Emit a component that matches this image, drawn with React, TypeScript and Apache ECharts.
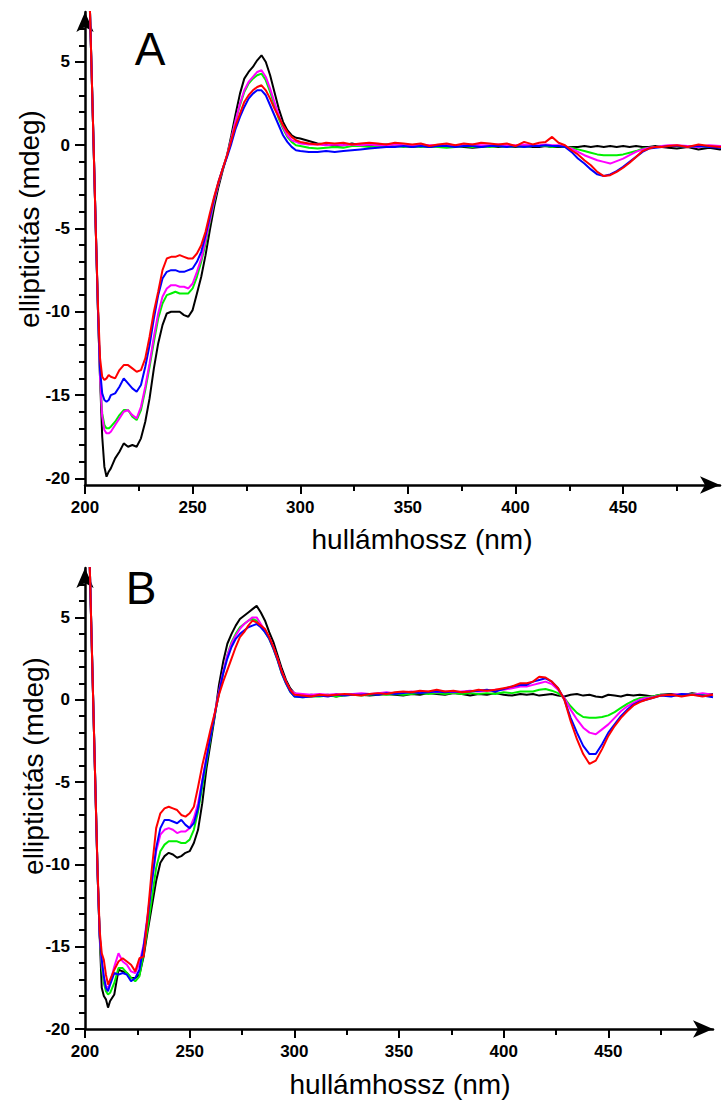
import React, { useEffect, useRef } from "react";
import * as echarts from "echarts";

const FONT = '"Liberation Sans", Arial, Helvetica, sans-serif';

// wavelengths (nm), shared by both panels
const wavelengths = [
  202, 203, 204, 205, 206, 207, 208, 209, 210, 211, 212,
  214, 216, 218, 220, 222, 224, 226, 228, 230, 232,
  234, 236, 238, 240, 242, 244, 246, 248, 250, 252,
  254, 256, 258, 260, 262, 264, 266, 268, 270, 272,
  274, 276, 278, 280, 282, 284, 286, 288, 290, 292,
  294, 296, 298,
  300, 304, 308, 312, 316, 320, 324, 328, 332, 336,
  340, 344, 348, 352, 356, 360, 364, 368, 372, 376,
  380, 384, 388, 392, 396, 400, 404, 408,
  411, 414, 417, 420, 423, 426, 429, 432, 435, 438,
  441, 444, 447, 450, 453, 456, 459, 462, 465, 468,
  471,
  475, 480, 485, 490, 495, 500,
];

// ---- Panel A ----
const aBlack = [
  9.5, 4.8, 0.0, -5.0, -9.8, -14.0, -17.5, -19.3, -19.9, -19.6, -19.4,
  -18.8, -18.4, -17.9, -18.1, -18.0, -18.1, -17.6, -16.6, -15.2, -13.4,
  -11.9, -10.8, -10.1, -10.0, -10.0, -10.0, -10.2, -10.3, -9.9, -8.9,
  -7.9, -6.6, -5.1, -3.7, -2.5, -1.5, -0.6, 0.6, 1.9, 3.1,
  4.0, 4.4, 4.7, 5.1, 5.4, 5.0, 4.2, 3.2, 2.2, 1.4,
  0.9, 0.6, 0.45,
  0.4, 0.25, 0.1, 0.05, -0.05, 0.0, 0.1, 0.0, -0.05, 0.0,
  0.05, 0.0, -0.05, -0.1, -0.05, -0.1, -0.05, -0.1, -0.05, -0.1,
  -0.15, -0.1, -0.05, -0.1, -0.05, -0.1, -0.05, -0.1,
  -0.1, -0.05, -0.1, -0.1, -0.1, -0.1, -0.1, -0.05, -0.1, -0.05,
  -0.1, -0.05, -0.1, -0.05, -0.1, -0.05, -0.1, -0.1, -0.05, -0.1,
  -0.15,
  -0.2, -0.1, -0.25, -0.15, -0.25, -0.2,
];
const aGreen = [
  9.5, 4.8, 0.0, -5.0, -9.8, -14.0, -16.1, -16.8, -17.0, -17.0, -16.9,
  -16.6, -16.2, -15.9, -15.9, -16.3, -16.5, -15.9, -14.7, -13.3, -11.8,
  -10.4, -9.5, -9.0, -8.9, -8.8, -8.9, -8.9, -8.9, -8.6, -7.9,
  -7.0, -5.9, -4.6, -3.4, -2.3, -1.4, -0.6, 0.4, 1.5, 2.4,
  3.2, 3.7, 4.0, 4.2, 4.3, 3.9, 3.2, 2.4, 1.6, 1.0,
  0.5, 0.2, 0.0,
  -0.05, -0.15, -0.2, -0.15, -0.1, -0.15, -0.05, -0.05, -0.1, -0.05,
  -0.1, -0.05, -0.1, -0.05, -0.1, -0.05, -0.1, -0.15, -0.1, -0.05,
  -0.1, -0.05, -0.1, -0.05, -0.1, -0.05, -0.1, -0.05,
  -0.05, -0.05, -0.1, -0.05, -0.1, -0.15, -0.25, -0.35, -0.45, -0.55,
  -0.6, -0.6, -0.6, -0.55, -0.45, -0.35, -0.2, -0.15, -0.1, -0.05,
  -0.05,
  -0.05, -0.1, -0.05, -0.1, -0.1, -0.15,
];
const aMagenta = [
  9.5, 4.8, 0.0, -5.0, -9.8, -14.0, -16.3, -17.1, -17.3, -17.3, -17.2,
  -16.8, -16.4, -16.0, -15.9, -16.2, -16.4, -15.7, -14.5, -13.1, -11.5,
  -10.1, -9.1, -8.6, -8.4, -8.4, -8.5, -8.5, -8.6, -8.3, -7.6,
  -6.8, -5.7, -4.5, -3.3, -2.3, -1.4, -0.6, 0.4, 1.5, 2.5,
  3.3, 3.8, 4.1, 4.4, 4.5, 4.1, 3.4, 2.6, 1.8, 1.1,
  0.6, 0.3, 0.2,
  0.1, 0.05, 0.05, 0.0, 0.05, 0.0, 0.05, 0.0, 0.05, 0.0,
  0.0, 0.05, 0.0, 0.0, 0.05, 0.0, 0.0, 0.05, 0.0, 0.0,
  0.05, 0.0, 0.0, 0.05, 0.0, 0.0, 0.05, 0.0,
  0.0, 0.05, 0.0, 0.0, -0.05, -0.2, -0.4, -0.6, -0.75, -0.9,
  -1.0, -1.1, -0.95, -0.8, -0.6, -0.4, -0.25, -0.15, -0.1, -0.05,
  0.0,
  0.0, -0.05, -0.1, 0.0, -0.05, -0.05,
];
const aBlue = [
  9.5, 4.8, 0.0, -5.0, -9.8, -13.5, -14.9, -15.3, -15.4, -15.3, -15.0,
  -14.9, -14.5, -14.0, -14.3, -14.6, -14.8, -14.4, -13.3, -12.0, -10.4,
  -9.0, -8.0, -7.6, -7.5, -7.5, -7.6, -7.6, -7.5, -7.4, -7.0,
  -6.4, -5.4, -4.3, -3.2, -2.2, -1.4, -0.7, 0.1, 1.0, 1.7,
  2.3, 2.8, 3.1, 3.3, 3.3, 3.0, 2.4, 1.8, 1.2, 0.6,
  0.2, -0.1, -0.3,
  -0.35, -0.4, -0.4, -0.35, -0.4, -0.35, -0.3, -0.25, -0.2, -0.15,
  -0.1, -0.1, -0.05, -0.1, -0.05, -0.1, -0.05, -0.05, -0.1, -0.05,
  -0.05, -0.1, -0.05, -0.05, -0.1, -0.05, -0.1, -0.05,
  -0.05, 0.0, -0.05, -0.05, -0.1, -0.4, -0.8, -1.1, -1.45, -1.75,
  -1.85, -1.75, -1.55, -1.3, -1.0, -0.7, -0.4, -0.2, -0.15, -0.1,
  -0.05,
  -0.05, -0.1, -0.05, -0.1, -0.15, -0.1,
];
const aRed = [
  9.5, 4.8, 0.0, -5.0, -9.5, -12.8, -13.9, -14.1, -14.0, -13.8, -13.9,
  -14.0, -13.5, -13.2, -13.2, -13.4, -13.6, -13.5, -12.8, -11.5, -10.0,
  -8.8, -7.5, -6.8, -6.7, -6.7, -6.6, -6.7, -6.8, -6.8, -6.5,
  -6.0, -5.2, -4.1, -3.1, -2.2, -1.4, -0.6, 0.3, 1.2, 1.9,
  2.6, 3.0, 3.3, 3.5, 3.6, 3.3, 2.8, 2.2, 1.7, 1.2,
  0.8, 0.5, 0.3,
  0.2, 0.1, 0.05, 0.15, 0.1, 0.15, 0.05, 0.1, 0.15, 0.1,
  0.05, 0.15, 0.1, 0.05, 0.1, -0.05, 0.05, 0.1, 0.0, 0.1,
  0.05, 0.15, 0.1, 0.05, 0.1, -0.05, 0.2, 0.05,
  0.15, 0.2, 0.5, 0.15, 0.0, -0.3, -0.55, -0.9, -1.2, -1.6,
  -1.85, -1.8, -1.6, -1.35, -1.05, -0.7, -0.35, -0.2, -0.1, -0.1,
  -0.05,
  0.0, -0.1, 0.05, -0.05, -0.1, -0.05,
];

// ---- Panel B ----
const bBlack = [
  9.5, 4.5, -0.5, -5.5, -10.5, -14.3, -17.5, -18.0, -18.2, -18.7, -18.3,
  -17.9, -16.4, -16.5, -16.6, -16.9, -16.9, -16.7, -15.6, -14.0, -12.5,
  -11.0, -9.9, -9.5, -9.3, -9.4, -9.6, -9.5, -9.3, -9.2, -8.7,
  -7.9, -6.3, -4.2, -2.6, -1.0, 0.9, 2.3, 3.4, 4.0, 4.5,
  4.9, 5.1, 5.3, 5.5, 5.7, 5.3, 4.8, 4.1, 3.5, 2.7,
  1.9, 1.2, 0.7,
  0.4, 0.2, 0.3, 0.25, 0.3, 0.2, 0.3, 0.35, 0.3, 0.25,
  0.3, 0.35, 0.3, 0.25, 0.35, 0.3, 0.4, 0.35, 0.3, 0.4,
  0.35, 0.25, 0.35, 0.3, 0.4, 0.3, 0.25, 0.35,
  0.3, 0.35, 0.25, 0.3, 0.35, 0.25, 0.2, 0.3, 0.35, 0.25,
  0.3, 0.2, 0.15, 0.3, 0.25, 0.2, 0.3, 0.25, 0.3, 0.25,
  0.2,
  0.3, 0.35, 0.25, 0.4, 0.3, 0.35,
];
const bGreen = [
  9.5, 4.5, -0.5, -5.5, -10.5, -14.3, -16.3, -17.2, -17.7, -17.9, -17.8,
  -17.2, -16.3, -16.3, -16.6, -16.9, -17.1, -16.8, -15.4, -13.8, -12.0,
  -10.2, -9.2, -8.8, -8.6, -8.6, -8.6, -8.7, -8.7, -8.5, -7.9,
  -6.8, -5.3, -3.8, -2.3, -0.9, 0.4, 1.6, 2.7, 3.5, 4.0,
  4.4, 4.6, 4.8, 4.9, 4.8, 4.5, 4.1, 3.7, 3.1, 2.4,
  1.6, 1.0, 0.5,
  0.2, 0.15, 0.2, 0.2, 0.25, 0.2, 0.25, 0.3, 0.25, 0.3,
  0.35, 0.3, 0.35, 0.3, 0.35, 0.4, 0.35, 0.4, 0.35, 0.4,
  0.35, 0.4, 0.35, 0.4, 0.35, 0.45, 0.4, 0.5,
  0.5, 0.5, 0.6, 0.65, 0.55, 0.4, 0.1, -0.4, -0.8, -1.05,
  -1.1, -1.1, -1.05, -0.95, -0.75, -0.5, -0.25, -0.05, 0.1, 0.15,
  0.2,
  0.3, 0.25, 0.3, 0.35, 0.3, 0.3,
];
const bMagenta = [
  9.5, 4.5, -0.5, -5.5, -10.5, -14.3, -16.0, -16.9, -17.4, -17.5, -17.2,
  -16.2, -15.4, -15.9, -16.1, -16.5, -16.6, -16.0, -14.9, -13.0, -11.0,
  -9.2, -8.2, -7.9, -7.8, -7.9, -8.1, -8.0, -8.0, -7.8, -7.2,
  -6.3, -4.9, -3.5, -2.1, -0.8, 0.5, 1.7, 2.7, 3.4, 3.9,
  4.3, 4.6, 4.8, 5.0, 5.0, 4.6, 4.2, 3.8, 3.2, 2.5,
  1.7, 1.1, 0.6,
  0.4, 0.35, 0.3, 0.35, 0.3, 0.35, 0.3, 0.35, 0.4, 0.35,
  0.4, 0.45, 0.4, 0.45, 0.5, 0.45, 0.5, 0.45, 0.5, 0.45,
  0.5, 0.55, 0.5, 0.55, 0.6, 0.6, 0.7, 0.8,
  0.8, 0.9, 1.0, 1.1, 0.95, 0.6, 0.1, -0.6, -1.2, -1.7,
  -2.0, -2.1, -1.8, -1.5, -1.1, -0.7, -0.4, -0.2, 0.0, 0.1,
  0.15,
  0.25, 0.3, 0.35, 0.3, 0.4, 0.3,
];
const bBlue = [
  9.5, 4.5, -0.5, -5.5, -10.5, -14.3, -15.8, -16.8, -17.5, -17.7, -17.3,
  -16.6, -16.7, -16.6, -16.7, -17.1, -16.9, -16.4, -15.0, -13.2, -11.0,
  -9.0, -7.8, -7.3, -7.3, -7.4, -7.5, -7.3, -7.6, -7.8, -7.5,
  -6.6, -5.0, -3.6, -2.2, -0.9, 0.4, 1.6, 2.5, 3.2, 3.7,
  4.0, 4.2, 4.4, 4.5, 4.6, 4.4, 4.1, 3.7, 3.1, 2.4,
  1.6, 1.0, 0.5,
  0.2, 0.15, 0.2, 0.25, 0.2, 0.3, 0.25, 0.3, 0.3, 0.35,
  0.3, 0.4, 0.35, 0.4, 0.45, 0.4, 0.45, 0.5, 0.45, 0.5,
  0.45, 0.5, 0.55, 0.6, 0.5, 0.65, 0.8, 0.9,
  0.9, 1.1, 1.2, 1.3, 1.1, 0.7, 0.0, -1.1, -2.0, -2.8,
  -3.3, -3.3, -2.7, -2.0, -1.5, -1.0, -0.6, -0.3, -0.1, 0.0,
  0.1,
  0.25, 0.2, 0.35, 0.3, 0.25, 0.15,
];
const bRed = [
  9.5, 4.5, -0.5, -5.5, -10.3, -14.0, -15.4, -15.8, -16.7, -17.3, -17.0,
  -16.4, -15.9, -15.7, -15.9, -16.1, -16.5, -15.7, -15.6, -13.0, -10.2,
  -7.8, -6.9, -6.6, -6.5, -6.6, -6.7, -7.0, -7.1, -6.9, -6.5,
  -5.3, -4.0, -2.9, -1.8, -0.8, 0.3, 1.1, 1.8, 2.5, 3.2,
  3.8, 4.1, 4.5, 4.8, 4.7, 4.5, 4.3, 3.8, 3.2, 2.5,
  1.7, 1.1, 0.6,
  0.3, 0.25, 0.2, 0.3, 0.25, 0.3, 0.35, 0.3, 0.25, 0.35,
  0.4, 0.35, 0.45, 0.5, 0.45, 0.55, 0.5, 0.6, 0.5, 0.55,
  0.45, 0.5, 0.6, 0.55, 0.6, 0.7, 0.8, 1.0,
  1.0, 1.1, 1.4, 1.35, 1.1, 0.7, 0.0, -1.3, -2.4, -3.3,
  -3.9, -3.7, -3.0, -2.2, -1.6, -1.1, -0.7, -0.35, -0.15, 0.0,
  0.1,
  0.25, 0.3, 0.2, 0.3, 0.2, 0.3,
];

// tick values
const xMajorTicks = [200, 250, 300, 350, 400, 450];
const xMinorTicks = [225, 275, 325, 375, 425, 475];
const yMajorTicks = [-20, -15, -10, -5, 0, 5];
const yMinorTicks = [-19, -18, -17, -16, -14, -13, -12, -11, -9, -8, -7, -6, -4, -3, -2, -1, 1, 2, 3, 4, 6, 7];

const seriesColors = ["#000000", "#00f000", "#ff00ff", "#0000ff", "#ff0000"];
const panelSeries = [
  [aBlack, aGreen, aMagenta, aBlue, aRed],
  [bBlack, bGreen, bMagenta, bBlue, bRed],
];
const panelLetters = ["A", "B"];
const yTitle = "ellipticitás (mdeg)";
const xTitle = "hullámhossz (nm)";

const panels = [
  { xMin: 200, xMax: 495, yMin: -20.4, yMax: 8 },
  { xMin: 200, xMax: 500, yMin: -20, yMax: 8 },
];
const grids = [
  { left: 85, top: 12, width: 635, height: 473 },
  { left: 85, top: 568, width: 628, height: 461 },
];

function buildOption() {
  const arrow = {
    symbol: ["none", "arrow"],
    symbolSize: [13, 20],
    symbolOffset: [0, 0],
  };
  const xAxis: any[] = [];
  const yAxis: any[] = [];
  const series: any[] = [];
  panels.forEach((p, gi) => {
    xAxis.push({
      type: "value",
      gridIndex: gi,
      min: p.xMin,
      max: p.xMax,
      position: "bottom",
      axisLine: { show: true, onZero: false, lineStyle: { color: "#000", width: 2.5 }, ...arrow },
      axisTick: { show: true, customValues: xMajorTicks, length: 9, lineStyle: { color: "#000", width: 2 } },
      axisLabel: {
        show: true,
        customValues: xMajorTicks,
        margin: 14,
        color: "#000",
        fontSize: 17,
        fontWeight: "bold",
        fontFamily: FONT,
      },
      splitLine: { show: false },
    });
    xAxis.push({
      type: "value",
      gridIndex: gi,
      min: p.xMin,
      max: p.xMax,
      position: "bottom",
      axisLine: { show: false, onZero: false },
      axisTick: { show: true, customValues: xMinorTicks, length: 6, lineStyle: { color: "#000", width: 2 } },
      axisLabel: { show: false },
      splitLine: { show: false },
    });
    yAxis.push({
      type: "value",
      gridIndex: gi,
      min: p.yMin,
      max: p.yMax,
      position: "left",
      axisLine: { show: true, onZero: false, lineStyle: { color: "#000", width: 2.5 }, ...arrow },
      axisTick: { show: true, customValues: yMajorTicks, length: 10, lineStyle: { color: "#000", width: 2 } },
      axisLabel: {
        show: true,
        customValues: yMajorTicks,
        margin: 15,
        color: "#000",
        fontSize: 17,
        fontWeight: "bold",
        fontFamily: FONT,
      },
      splitLine: { show: false },
    });
    yAxis.push({
      type: "value",
      gridIndex: gi,
      min: p.yMin,
      max: p.yMax,
      position: "left",
      axisLine: { show: false, onZero: false },
      axisTick: { show: true, customValues: yMinorTicks, length: 6, lineStyle: { color: "#000", width: 2 } },
      axisLabel: { show: false },
      splitLine: { show: false },
    });
    panelSeries[gi].forEach((vals, si) => {
      series.push({
        type: "line",
        xAxisIndex: gi * 2,
        yAxisIndex: gi * 2,
        data: wavelengths.map((w, i) => [w, vals[i]]),
        showSymbol: false,
        symbol: "none",
        clip: true,
        lineStyle: { color: seriesColors[si], width: 2 },
        z: 2 + si,
      });
    });
  });

  const textStyle = (text: string, size: number) => ({
    text,
    fontSize: size,
    fontFamily: FONT,
    fill: "#000",
    align: "center",
    verticalAlign: "middle",
  });

  const graphic = [
    { type: "text", x: 29, y: 219, rotation: Math.PI / 2, style: textStyle(yTitle, 28) },
    { type: "text", x: 33, y: 766, rotation: Math.PI / 2, style: textStyle(yTitle, 28) },
    { type: "text", x: 422, y: 539, style: textStyle(xTitle, 28) },
    { type: "text", x: 400, y: 1084, style: textStyle(xTitle, 28) },
    { type: "text", x: 150, y: 49, style: textStyle(panelLetters[0], 46) },
    { type: "text", x: 141, y: 588, style: textStyle(panelLetters[1], 46) },
  ];

  return {
    animation: false,
    backgroundColor: "#ffffff",
    grid: grids,
    xAxis,
    yAxis,
    series,
    graphic,
  };
}

export default function App() {
  const ref = useRef<HTMLDivElement>(null);
  useEffect(() => {
    if (!ref.current) return;
    const chart = echarts.init(ref.current, null, { renderer: "svg" });
    chart.setOption(buildOption() as any);
    return () => chart.dispose();
  }, []);
  return (
    <div
      ref={ref}
      style={{ position: "absolute", left: 0, top: 0, width: 723, height: 1100, background: "#fff" }}
    />
  );
}
